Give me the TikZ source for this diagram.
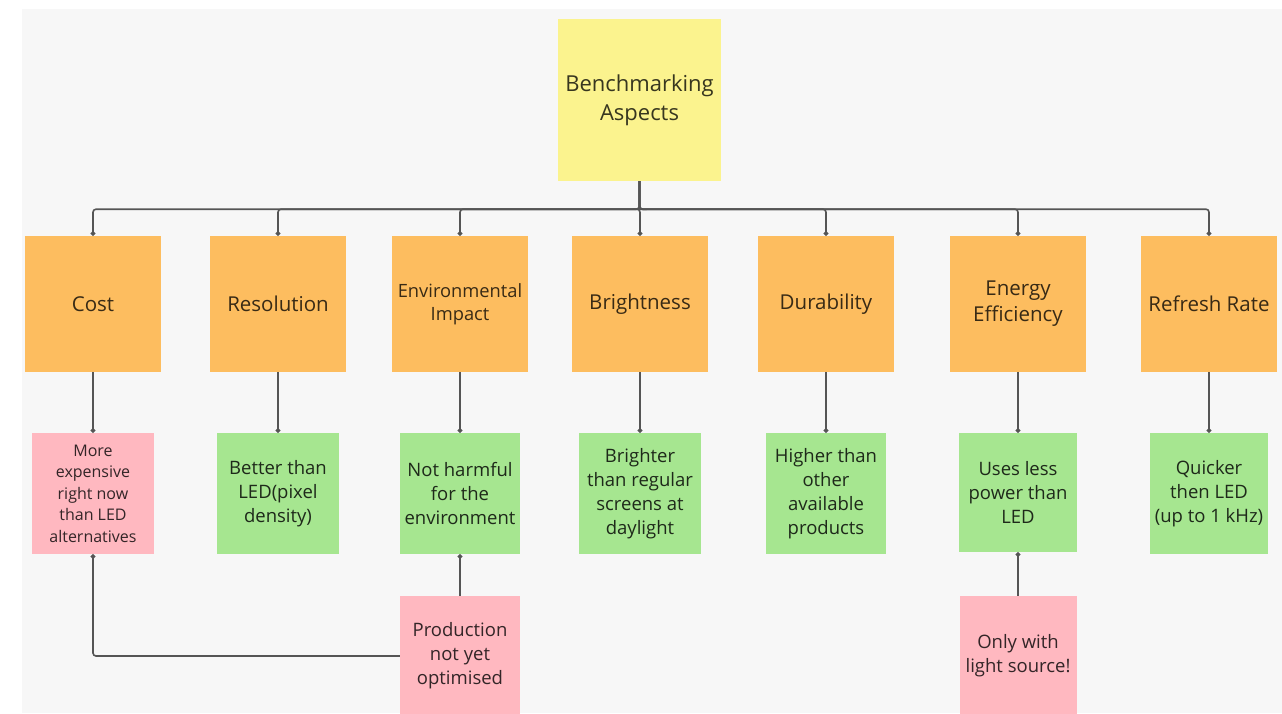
\documentclass[tikz,border=0pt]{standalone}
\usepackage{fontspec}
\setmainfont{Open Sans}
\usetikzlibrary{arrows.meta}
\definecolor{bgc}{HTML}{F7F7F7}
\definecolor{yel}{HTML}{FBF38E}
\definecolor{org}{HTML}{FDBD5F}
\definecolor{grn}{HTML}{A6E690}
\definecolor{pnk}{HTML}{FFB8C0}
\definecolor{linec}{HTML}{555555}
\tikzset{
  box/.style={rectangle, inner sep=2pt, align=center, font=\fontsize{18.5}{24}\selectfont},
  rootbox/.style={box, fill=yel, text=yel!22!black, minimum width=163pt, minimum height=162pt, font=\fontsize{22}{29}\selectfont},
  aspbox/.style={box, fill=org, text=org!22!black, minimum width=136pt, minimum height=136pt, font=\fontsize{20.5}{26}\selectfont},
  goodbox/.style={box, fill=grn, text=grn!18!black, minimum height=121pt},
  badbox/.style={box, fill=pnk, text=pnk!20!black, minimum height=121pt},
  conn/.style={draw=linec, line width=1.6pt, rounded corners=3pt, -{Circle[length=4.5pt,width=4.5pt]}},
}
\begin{document}
\begin{tikzpicture}[x=1pt,y=-1pt]
\useasboundingbox (0,0) rectangle (1282,713);
\clip (0,0) rectangle (1282,713);
\fill[white] (0,0) rectangle (1282,713);
\fill[bgc] (22,9) rectangle (1282,713);

\node[rootbox] (root) at (639.5,100) {Benchmarking\\Aspects};

\node[aspbox] (cost) at (93,304) {Cost};
\node[aspbox] (res) at (278,304) {Resolution};
\node[aspbox, font=\fontsize{18.3}{23}\selectfont] (env) at (460,304) {Environmental\\Impact};
\node[aspbox] (bri) at (640,304) {Brightness};
\node[aspbox] (dur) at (826,304) {Durability};
\node[aspbox] (ene) at (1018,304) {Energy\\Efficiency};
\node[aspbox] (ref) at (1209,304) {Refresh Rate};

\node[badbox, minimum width=122pt, font=\fontsize{16}{21.5}\selectfont] (costc) at (93,493.5) {More\\expensive\\right now\\than LED\\alternatives};
\node[goodbox, minimum width=122pt] (resc) at (278,493.5) {Better than\\LED(pixel\\density)};
\node[goodbox, minimum width=120pt] (envc) at (460,493.5) {Not harmful\\for the\\environment};
\node[goodbox, minimum width=122pt] (bric) at (640,493.5) {Brighter\\than regular\\screens at\\daylight};
\node[goodbox, minimum width=120pt] (durc) at (826,493.5) {Higher than\\other\\available\\products};
\node[goodbox, minimum width=118pt, minimum height=119pt] (enec) at (1018,492.5) {Uses less\\power than\\LED};
\node[goodbox, minimum width=118pt] (refc) at (1209,493.5) {Quicker\\then LED\\(up to 1 kHz)};

\node[badbox, minimum width=120pt, minimum height=120pt] (prod) at (460,656) {Production\\not yet\\optimised};
\node[badbox, minimum width=117pt, minimum height=120pt] (light) at (1018,656) {Only with\\light source!};

\foreach \t in {cost,res,env,bri,dur,ene,ref}
  \draw[conn] (root.south) -- ++(0,28) -| (\t.north);
\draw[conn] (cost) -- (costc);
\draw[conn] (res) -- (resc);
\draw[conn] (env) -- (envc);
\draw[conn] (bri) -- (bric);
\draw[conn] (dur) -- (durc);
\draw[conn] (ene) -- (enec);
\draw[conn] (ref) -- (refc);
\draw[conn] (prod) -- (envc);
\draw[conn] (prod.west) -| (costc.south);
\draw[conn] (light) -- (enec);
\end{tikzpicture}
\end{document}
